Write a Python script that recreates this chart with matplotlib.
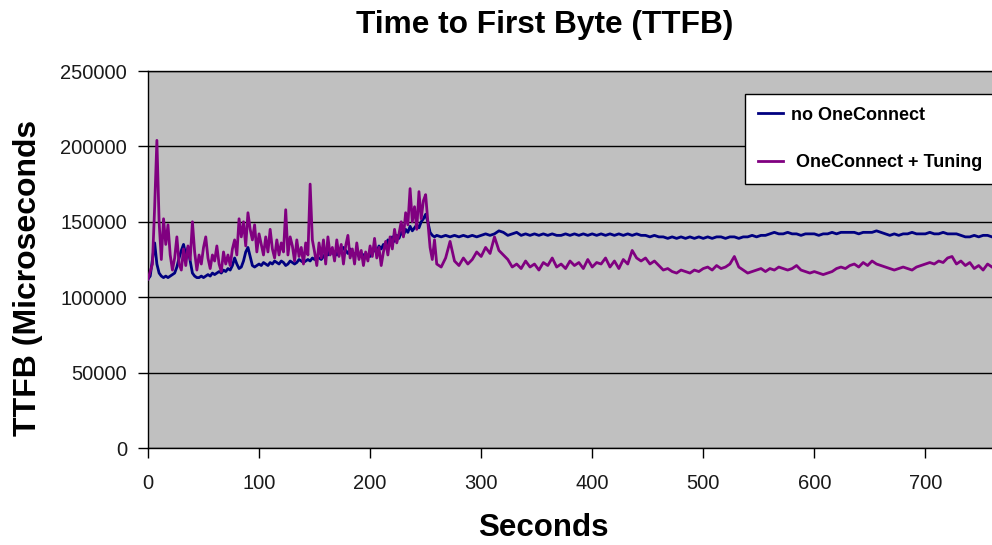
import numpy as np
import matplotlib
matplotlib.use("Agg")
import matplotlib.pyplot as plt

plt.rcParams['font.family'] = ['Liberation Sans', 'DejaVu Sans']

# ---- data (values in thousands of microseconds) ----
# segment 1: t = 0..260 s every 2 s
no_oc_seg1 = [112, 114, 125, 136, 122, 116, 114, 113, 114, 113, 114, 115, 116, 120, 126, 131, 135, 128, 133, 124,
              116, 114, 113, 113, 114, 113, 114, 115, 114, 116, 115, 116, 117, 116, 118, 117, 119, 118, 121, 126,
              122, 119, 120, 124, 130, 133, 127, 121, 120, 121, 122, 121, 123, 122, 121, 123, 122, 124, 123, 122,
              124, 123, 121, 122, 124, 123, 122, 123, 125, 124, 123, 124, 125, 124, 126, 125, 127, 126, 125, 127,
              129, 128, 131, 129, 130, 128, 131, 130, 133, 131, 129, 132, 130, 128, 130, 127, 129, 128, 126, 128,
              127, 129, 132, 130, 134, 132, 135, 133, 138, 136, 140, 137, 141, 139, 143, 141, 145, 143, 147, 144,
              146, 148, 146, 150, 152, 155, 150, 143, 141, 140, 141]
tuned_seg1 = [112, 117, 122, 160, 204, 150, 125, 152, 135, 148, 128, 118, 126, 140, 122, 118, 132, 121, 134, 125,
              150, 130, 118, 128, 122, 133, 140, 126, 119, 128, 124, 134, 122, 117, 130, 122, 128, 121, 132, 138,
              128, 152, 140, 150, 134, 156, 145, 138, 148, 130, 142, 135, 128, 140, 130, 145, 132, 126, 138, 128,
              136, 130, 158, 128, 140, 134, 124, 138, 127, 133, 122, 136, 128, 175, 138, 130, 121, 136, 126, 138,
              122, 140, 128, 133, 124, 138, 127, 135, 122, 134, 141, 126, 132, 122, 136, 125, 131, 121, 130, 124,
              134, 127, 139, 126, 133, 121, 130, 137, 128, 140, 132, 145, 136, 142, 150, 140, 156, 148, 172, 150,
              160, 145, 170, 152, 164, 168, 150, 133, 125, 138, 122]
# segment 2: t = 264..760 s every 4 s
no_oc_seg2 = [140, 141, 140, 141, 140, 141, 140, 141, 140, 141, 142, 141, 142, 144, 143, 141, 142, 143, 141, 142,
              141, 142, 141, 142, 141, 142, 141, 141, 142, 141, 142, 141, 142, 141, 142, 141, 142, 141, 142, 141,
              142, 141, 142, 141, 142, 141, 141, 140, 141, 140, 140, 139, 140, 139, 140, 139, 140, 139, 140, 139,
              140, 139, 140, 140, 139, 140, 140, 139, 140, 140, 141, 140, 141, 141, 142, 143, 142, 142, 143, 142,
              142, 141, 142, 142, 142, 141, 142, 142, 143, 142, 143, 143, 143, 143, 142, 143, 143, 143, 144, 143,
              142, 141, 142, 141, 142, 142, 143, 142, 142, 142, 143, 142, 142, 143, 142, 142, 142, 141, 140, 140,
              141, 140, 141, 141, 140]
tuned_seg2 = [120, 126, 137, 124, 121, 126, 122, 125, 130, 127, 133, 129, 140, 131, 128, 125, 120, 122, 119, 124,
              120, 122, 118, 123, 121, 126, 120, 122, 119, 124, 121, 123, 119, 125, 120, 123, 122, 126, 120, 124,
              119, 125, 122, 131, 126, 124, 126, 122, 124, 121, 118, 119, 117, 116, 118, 117, 116, 118, 117, 119,
              120, 118, 121, 119, 120, 122, 127, 120, 118, 116, 117, 118, 119, 117, 119, 118, 120, 119, 118, 119,
              121, 118, 117, 116, 117, 116, 115, 116, 117, 119, 120, 119, 121, 122, 120, 123, 121, 124, 122, 121,
              120, 119, 118, 119, 120, 119, 118, 120, 121, 122, 123, 122, 124, 123, 126, 127, 122, 124, 121, 123,
              119, 121, 118, 122, 120]

t_seg1 = np.arange(len(no_oc_seg1)) * 2
t_seg2 = 264 + np.arange(len(no_oc_seg2)) * 4
seconds = np.concatenate([t_seg1, t_seg2])
no_oneconnect = np.concatenate([no_oc_seg1, no_oc_seg2]) * 1000
tuned_t1 = np.arange(len(tuned_seg1)) * 2
tuned_t2 = 264 + np.arange(len(tuned_seg2)) * 4
seconds_tuned = np.concatenate([tuned_t1, tuned_t2])
oneconnect_tuning = np.concatenate([tuned_seg1, tuned_seg2]) * 1000

x_ticks = [0, 100, 200, 300, 400, 500, 600, 700]
y_ticks = [0, 50000, 100000, 150000, 200000, 250000]
series_labels = ["no OneConnect", " OneConnect + Tuning"]

# ---- figure ----
W, H = 992, 545
fig = plt.figure(figsize=(W / 100, H / 100), dpi=100)
ax = fig.add_axes([148 / W, (H - 448) / H, (W - 148) / W, (448 - 71) / H])
ax.set_facecolor('#C0C0C0')

ax.plot(seconds, no_oneconnect, color='#000080', lw=2.0, label=series_labels[0], zorder=3)
ax.plot(seconds_tuned, oneconnect_tuning, color='#800080', lw=2.0, label=series_labels[1], zorder=4)

ax.set_xlim(0, 760)
ax.set_ylim(0, 250000)
ax.set_xticks(x_ticks)
ax.set_yticks(y_ticks)
ax.yaxis.grid(True, color='black', lw=1.0)
ax.set_axisbelow(True)

for s in ['left', 'bottom', 'top']:
    ax.spines[s].set_color('black')
    ax.spines[s].set_linewidth(1.0)
ax.spines['right'].set_visible(False)

ax.tick_params(axis='both', direction='out', length=7, width=1, color='black',
               labelsize=14.5, labelcolor='#1a1a1a')
ax.tick_params(axis='y', pad=8)
ax.tick_params(axis='x', pad=12)

fig.text(545 / W, 1 - 25 / H, "Time to First Byte (TTFB)", ha='center', va='center',
         fontsize=22.8, fontweight='bold')
fig.text(543 / W, 1 - 528 / H, "Seconds", ha='center', va='center',
         fontsize=22.5, fontweight='bold')
fig.text(28 / W, 1 - 278 / H, "TTFB (Microseconds", ha='center', va='center',
         fontsize=23, fontweight='bold', rotation=90)

leg = ax.legend(loc='upper left', bbox_to_anchor=(745 / W, 1 - 94 / H),
                bbox_transform=fig.transFigure, frameon=True, fancybox=False,
                framealpha=1, edgecolor='black', facecolor='white',
                prop={'weight': 'bold', 'size': 13}, handlelength=1.4,
                handletextpad=0.45, labelspacing=1.7, borderpad=0.7, borderaxespad=0)
leg.get_frame().set_linewidth(1.0)
for line in leg.get_lines():
    line.set_linewidth(2.0)

fig.savefig('out.png', dpi=100)
